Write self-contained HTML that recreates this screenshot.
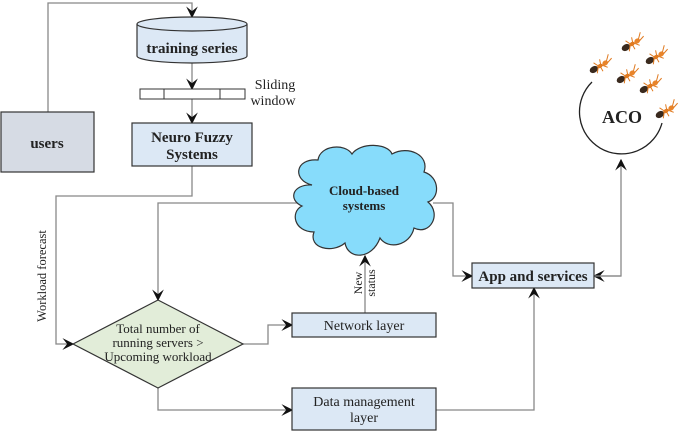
<!DOCTYPE html>
<html><head><meta charset="utf-8"><style>
body{margin:0;background:#fff}
svg{display:block}
svg text{font-family:"Liberation Serif","Times New Roman","DejaVu Serif",serif;fill:#222}
.b{font-weight:bold}
</style></head><body>
<svg width="685" height="433" viewBox="0 0 685 433" xmlns="http://www.w3.org/2000/svg" font-family="Liberation Serif, Times New Roman, serif">
<defs>
<marker id="a" viewBox="0 0 10 10" refX="9" refY="5" markerWidth="9" markerHeight="9" orient="auto"><path d="M0,0 L10,5 L0,10 L4,5 z" fill="#111"/></marker>
<g id="ant">
<ellipse cx="-7" cy="0" rx="4.5" ry="3.2" fill="#3a2a1e"/>
<ellipse cx="0" cy="0" rx="3" ry="2" fill="#e07a20"/>
<ellipse cx="6" cy="0" rx="3" ry="2.4" fill="#e8842a"/>
<path d="M-1,0 l-3,-6 M1,0 l2,-6 M0,0 l0,6 M-2,0 l-4,5 M2,0 l4,5 M8,-1 l5,-5 M8,1 l6,-2" stroke="#e07a20" stroke-width="1"/>
</g>
</defs>
<g fill="none" stroke="#888" stroke-width="1.3">
<path d="M48,112 V3 H192 V17" marker-end="url(#a)"/>
<path d="M192,63 V89" marker-end="url(#a)"/>
<path d="M192,99 V123" marker-end="url(#a)"/>
<path d="M192,166 V196 H56 V344 H73" marker-end="url(#a)"/>
<path d="M298,203 H158 V300" marker-end="url(#a)"/>
<path d="M243,344 H268 V325 H292" marker-end="url(#a)"/>
<path d="M158,388 V410 H292" marker-end="url(#a)"/>
<path d="M365,313 V256" marker-end="url(#a)"/>
<path d="M433,203 H453 V276 H472" marker-end="url(#a)"/>
<path d="M436,410 H534 V288" marker-end="url(#a)"/>
<path d="M621,276 H594" marker-end="url(#a)"/>
<path d="M594,276 H621 V160" marker-end="url(#a)"/>
</g>
<path d="M137,24 V56 A55,7 0 0 0 247,56 V24" fill="#dce8f5" stroke="#333" stroke-width="1.2"/>
<ellipse cx="192" cy="24" rx="55" ry="7" fill="#dce8f5" stroke="#333" stroke-width="1.2"/>
<text x="192" y="53" text-anchor="middle" class="b" font-size="15">training series</text>
<rect x="140" y="89" width="105" height="10" fill="#fff" stroke="#333"/>
<path d="M164,89 V99 M220,89 V99" stroke="#333"/>
<text x="275" y="89" text-anchor="middle" font-size="14">Sliding</text>
<text x="273" y="105" text-anchor="middle" font-size="14">window</text>
<rect x="1" y="112" width="93" height="60" fill="#d6dbe4" stroke="#333" stroke-width="1.2"/>
<text x="47" y="148" text-anchor="middle" class="b" font-size="15">users</text>
<rect x="132" y="123" width="120" height="43" fill="#dce8f5" stroke="#333" stroke-width="1.2"/>
<text x="192" y="142" text-anchor="middle" class="b" font-size="15">Neuro Fuzzy</text>
<text x="192" y="159" text-anchor="middle" class="b" font-size="15">Systems</text>
<text transform="translate(46,276) rotate(-90)" text-anchor="middle" font-size="12.5">Workload forecast</text>
<path d="M73,344 L158,300 L243,344 L158,388 z" fill="#e2edd9" stroke="#333" stroke-width="1.2"/>
<text x="158" y="333" text-anchor="middle" font-size="13">Total number of</text>
<text x="158" y="347" text-anchor="middle" font-size="13">running servers &gt;</text>
<text x="158" y="361" text-anchor="middle" font-size="13">Upcoming workload</text>
<rect x="292" y="313" width="144" height="24" fill="#dce8f5" stroke="#333" stroke-width="1.2"/>
<text x="364" y="330" text-anchor="middle" font-size="14">Network layer</text>
<rect x="292" y="388" width="144" height="42" fill="#dce8f5" stroke="#333" stroke-width="1.2"/>
<text x="364" y="406" text-anchor="middle" font-size="14">Data management</text>
<text x="364" y="422" text-anchor="middle" font-size="14">layer</text>
<text transform="translate(362,283) rotate(-90)" text-anchor="middle" font-size="12">New</text>
<text transform="translate(375,283) rotate(-90)" text-anchor="middle" font-size="12">status</text>
<path d="M312,185 C292,180 295,158 318,160 C320,145 345,143 352,154 C360,142 388,143 392,154 C408,145 430,155 424,172 C440,177 440,198 428,202 C442,214 430,236 414,228 C410,246 388,250 380,238 C372,260 348,260 345,243 C332,254 308,248 314,232 C294,232 290,212 302,206 C288,200 292,184 312,185 z" fill="#87dcfb" stroke="#333" stroke-width="1.2"/>
<text x="364" y="195" text-anchor="middle" class="b" font-size="13">Cloud-based</text>
<text x="364" y="210" text-anchor="middle" class="b" font-size="13">systems</text>
<rect x="472" y="263" width="122" height="25" fill="#dce8f5" stroke="#333" stroke-width="1.2"/>
<text x="533" y="281" text-anchor="middle" class="b" font-size="15">App and services</text>
<path d="M592,82 A42,42 0 1 0 662,123" fill="none" stroke="#222" stroke-width="1.3"/>
<text x="622" y="123" text-anchor="middle" class="b" font-size="18">ACO</text>
<use href="#ant" transform="translate(600,66) rotate(-30)"/>
<use href="#ant" transform="translate(632,44) rotate(-30)"/>
<use href="#ant" transform="translate(656,57) rotate(-30)"/>
<use href="#ant" transform="translate(627,76) rotate(-30)"/>
<use href="#ant" transform="translate(650,86) rotate(-30)"/>
<use href="#ant" transform="translate(666,111) rotate(-30)"/>
</svg>
</body></html>
